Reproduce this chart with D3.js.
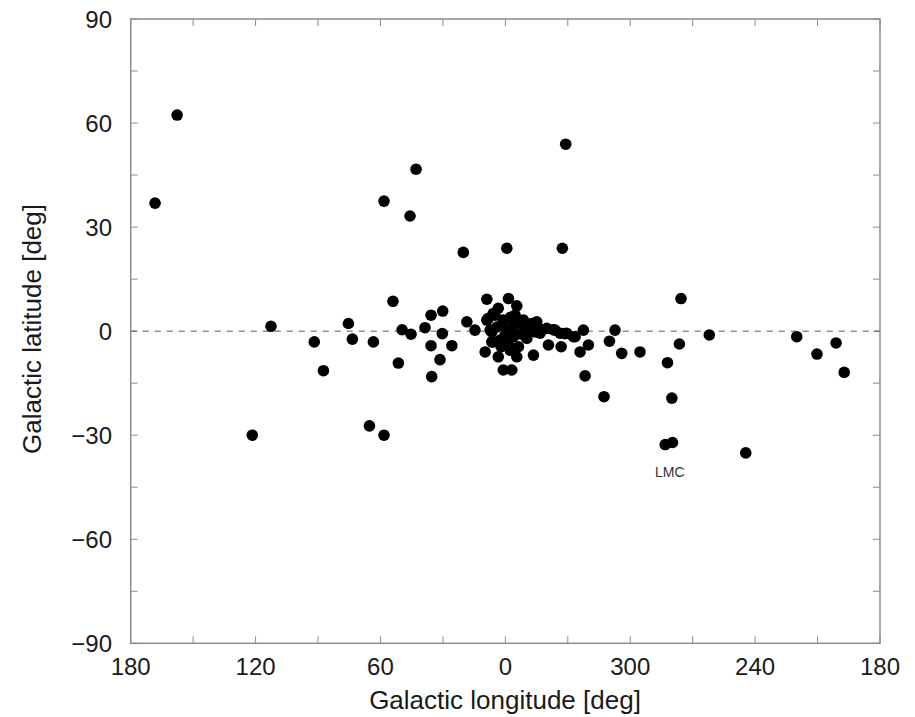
<!DOCTYPE html>
<html>
<head>
<meta charset="utf-8">
<script src="https://cdn.jsdelivr.net/npm/d3@7"></script>
<style>
  html, body { margin: 0; padding: 0; background: #fff; }
  svg text { font-family: "Liberation Sans", Arial, sans-serif; fill: #1a1a1a; }
</style>
</head>
<body>
<svg id="chart" width="915" height="717"></svg>
<script>
// galactic coordinates of the sources (deg), l in 0..360
const lon = [
  168.3, 157.7, 112.6, 121.6, 91.8, 87.4, 75.4, 73.5, 63.4, 65.3,
  58.3, 58.3, 54.0, 51.4, 49.6, 45.3, 45.8, 42.9, 38.6, 35.7,
  35.7, 35.4, 31.4, 30.1, 30.3, 25.7, 20.2, 18.5, 14.6, 8.9,
  8.2, 6.5, 6.5, 9.7, 3.4, 4.1, 3.4, 1.0, 0.1, 1.0,
  358.5, 358.5, 356.9, 356.9, 354.5, 353.7, 354.5, 352.1, 349.7, 347.3,
  346.5, 345.7, 344.1, 340.1, 339.3, 336.1, 333.2, 331.3, 326.5, 322.5,
  324.1, 320.1, 321.7, 359.3, 332.6, 331.0, 307.3, 310.0, 304.1, 295.3,
  312.6, 275.6, 276.4, 262.0, 282.1, 280.0, 283.2, 279.7, 244.5, 220.0,
  210.3, 201.1, 197.2, 5.8, 5.0, 2.5, 355.3, 350.5, 357.7,
  356.1, 354.5, 351.3, 348.1, 344.9, 343.3, 337.0, 333.7, 330.5, 327.3,
  8.9, 1.0, 359.3, 5.8, 7.3, 2.0, 357.5, 352.5
];
const lat = [
  36.9, 62.3, 1.4, -30.0, -3.1, -11.4, 2.2, -2.3, -3.1, -27.3,
  -30.0, 37.5, 8.6, -9.2, 0.4, -0.9, 33.2, 46.7, 1.0, 4.6,
  -4.2, -13.1, -8.2, 5.8, -0.7, -4.2, 22.7, 2.7, 0.3, 9.2,
  3.7, -0.2, -3.1, -6.0, 6.6, 1.2, -7.4, 2.7, -1.1, -11.2,
  9.4, -4.0, 0.8, -11.2, 7.3, -4.5, -7.4, 2.7, -2.1, 2.2,
  -6.9, -0.2, 0.8, 0.8, -4.0, 0.3, -4.5, -0.7, -1.6, 0.3,
  -6.0, -4.0, -12.9, 23.9, 23.9, 53.9, 0.3, -2.9, -6.4, -6.0,
  -18.9, 9.4, -3.7, -1.1, -9.1, -19.3, -32.7, -32.1, -35.1, -1.6,
  -6.6, -3.4, -11.9, 5.1, 4.6, -2.6, 4.6, 0.3, -5.5,
  -1.6, 2.2, 3.2, 1.2, 2.7, -0.6, 0.4, -0.6, -0.6, -1.6,
  3.2, 3.2, 0.3, -3.1, 0.3, -4.5, 4.0, -0.8
];
const xTickLabels = [180, 120, 60, 0, -60, -120, -180];
const yTickLabels = [-90, -60, -30, 0, 30, 60, 90];
const annotation = { text: "LMC", l: 281, b: -42 };

const plotLeft = 130.7, plotRight = 880, plotTop = 19, plotBottom = 643.3;
const svg = d3.select("#chart");

const x = d3.scaleLinear().domain([180, -180]).range([plotLeft, plotRight]);
const y = d3.scaleLinear().domain([-90, 90]).range([plotBottom, plotTop]);
const wrap = l => (l > 180 ? l - 360 : l);
const lonFmt = v => String(v < 0 ? v + 360 : v);
const latFmt = d3.format("d");

const frameColor = "#8c8c8c";

// ticks drawn inward on all four sides
const xTicks = d3.range(-180, 181, 30);
const yTicks = d3.range(-90, 91, 15);
const tickLen = 7;

const g = svg.append("g");

g.selectAll("line.xt-b").data(xTicks).join("line")
  .attr("class", "xt-b")
  .attr("x1", d => x(d)).attr("x2", d => x(d))
  .attr("y1", plotBottom).attr("y2", plotBottom - tickLen)
  .attr("stroke", frameColor).attr("stroke-width", 1);
g.selectAll("line.xt-t").data(xTicks).join("line")
  .attr("class", "xt-t")
  .attr("x1", d => x(d)).attr("x2", d => x(d))
  .attr("y1", plotTop).attr("y2", plotTop + tickLen)
  .attr("stroke", frameColor).attr("stroke-width", 1);
g.selectAll("line.yt-l").data(yTicks).join("line")
  .attr("class", "yt-l")
  .attr("x1", plotLeft).attr("x2", plotLeft + tickLen)
  .attr("y1", d => y(d)).attr("y2", d => y(d))
  .attr("stroke", frameColor).attr("stroke-width", 1);
g.selectAll("line.yt-r").data(yTicks).join("line")
  .attr("class", "yt-r")
  .attr("x1", plotRight).attr("x2", plotRight - tickLen)
  .attr("y1", d => y(d)).attr("y2", d => y(d))
  .attr("stroke", frameColor).attr("stroke-width", 1);

// zero latitude line
g.append("line")
  .attr("x1", plotLeft).attr("x2", plotRight)
  .attr("y1", y(0)).attr("y2", y(0))
  .attr("stroke", "#555").attr("stroke-width", 1)
  .attr("stroke-dasharray", "6,6");

// frame
g.append("rect")
  .attr("x", plotLeft).attr("y", plotTop)
  .attr("width", plotRight - plotLeft).attr("height", plotBottom - plotTop)
  .attr("fill", "none").attr("stroke", frameColor).attr("stroke-width", 1.5);

// tick labels
g.selectAll("text.xl").data(xTickLabels).join("text")
  .attr("class", "xl")
  .attr("x", d => x(d)).attr("y", 675)
  .attr("text-anchor", "middle")
  .attr("font-size", 24)
  .text(lonFmt);

g.selectAll("text.yl").data(yTickLabels).join("text")
  .attr("class", "yl")
  .attr("x", 112).attr("y", d => y(d))
  .attr("dy", "0.36em")
  .attr("text-anchor", "end")
  .attr("font-size", 24)
  .text(latFmt);

// axis titles
svg.append("text")
  .attr("x", 505).attr("y", 709)
  .attr("text-anchor", "middle")
  .attr("font-size", 26)
  .text("Galactic longitude [deg]");

svg.append("text")
  .attr("transform", `translate(41,329) rotate(-90)`)
  .attr("text-anchor", "middle")
  .attr("font-size", 26)
  .text("Galactic latitude [deg]");

// points
const pts = lon.map((l, i) => ({ l: wrap(l), b: lat[i] }));
g.selectAll("circle.pt").data(pts).join("circle")
  .attr("class", "pt")
  .attr("cx", d => x(d.l)).attr("cy", d => y(d.b))
  .attr("r", 5.8)
  .attr("fill", "#000");

// LMC label
svg.append("text")
  .attr("x", x(wrap(annotation.l))).attr("y", y(annotation.b))
  .attr("text-anchor", "middle")
  .attr("font-size", 14)
  .style("fill", "#333")
  .text(annotation.text);
</script>
</body>
</html>
